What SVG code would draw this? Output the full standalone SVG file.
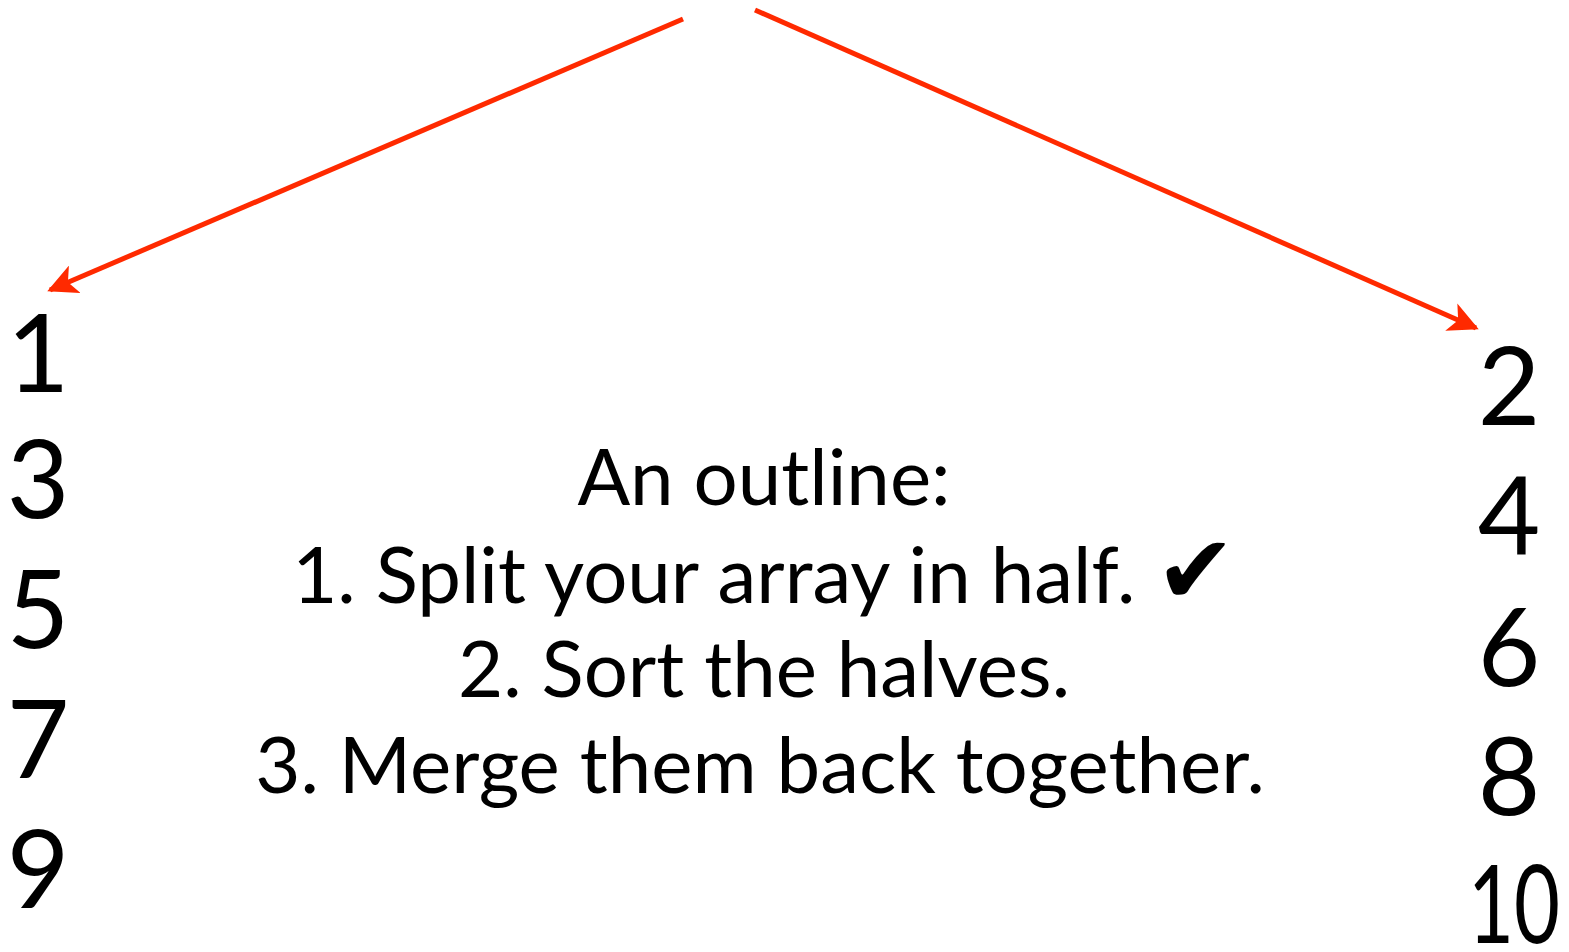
<svg xmlns="http://www.w3.org/2000/svg" width="1569" height="952" viewBox="0 0 1569 952">
<style>
.t{font-family:"Lato","Open Sans","Liberation Sans",sans-serif;fill:#000;text-anchor:middle}
.n{font-size:108px}
.c{font-size:78px}
.e{stroke:#FF2A00;stroke-width:5;fill:none}
</style>
<defs>
<marker id="ah" viewBox="0 0 10 10" refX="9" refY="5" markerWidth="6" markerHeight="6" markerUnits="strokeWidth" orient="auto">
<path d="M0,0 L10,5 L0,10 L2.5,5 Z" fill="#FF2A00"/>
</marker>
</defs>
<rect width="1569" height="952" fill="#fff"/>
<g id="connectors">
<line class="e" x1="683" y1="19" x2="50" y2="290" marker-end="url(#ah)"/>
<line class="e" x1="755" y1="10" x2="1476" y2="328" marker-end="url(#ah)"/>
</g>
<g id="left">
<text class="t n" x="38" y="392">1</text>
<text class="t n" x="38" y="518">3</text>
<text class="t n" x="38" y="648">5</text>
<text class="t n" x="38" y="778">7</text>
<text class="t n" x="38" y="908">9</text>
</g>
<g id="right">
<text class="t n" x="1509" y="425">2</text>
<text class="t n" x="1509" y="555">4</text>
<text class="t n" x="1509" y="686">6</text>
<text class="t n" x="1509" y="815">8</text>
<text class="t n" x="1514" y="943" textLength="92" lengthAdjust="spacingAndGlyphs">10</text>
</g>
<g id="outline">
<text class="t c" x="764" y="505">An outline:</text>
<text class="t c" x="764" y="603">1. Split your array in half. <tspan font-family="DejaVu Sans" font-size="96px">✔</tspan></text>
<text class="t c" x="764" y="697">2. Sort the halves.</text>
<text class="t c" x="760" y="793">3. Merge them back together.</text>
</g>
</svg>
